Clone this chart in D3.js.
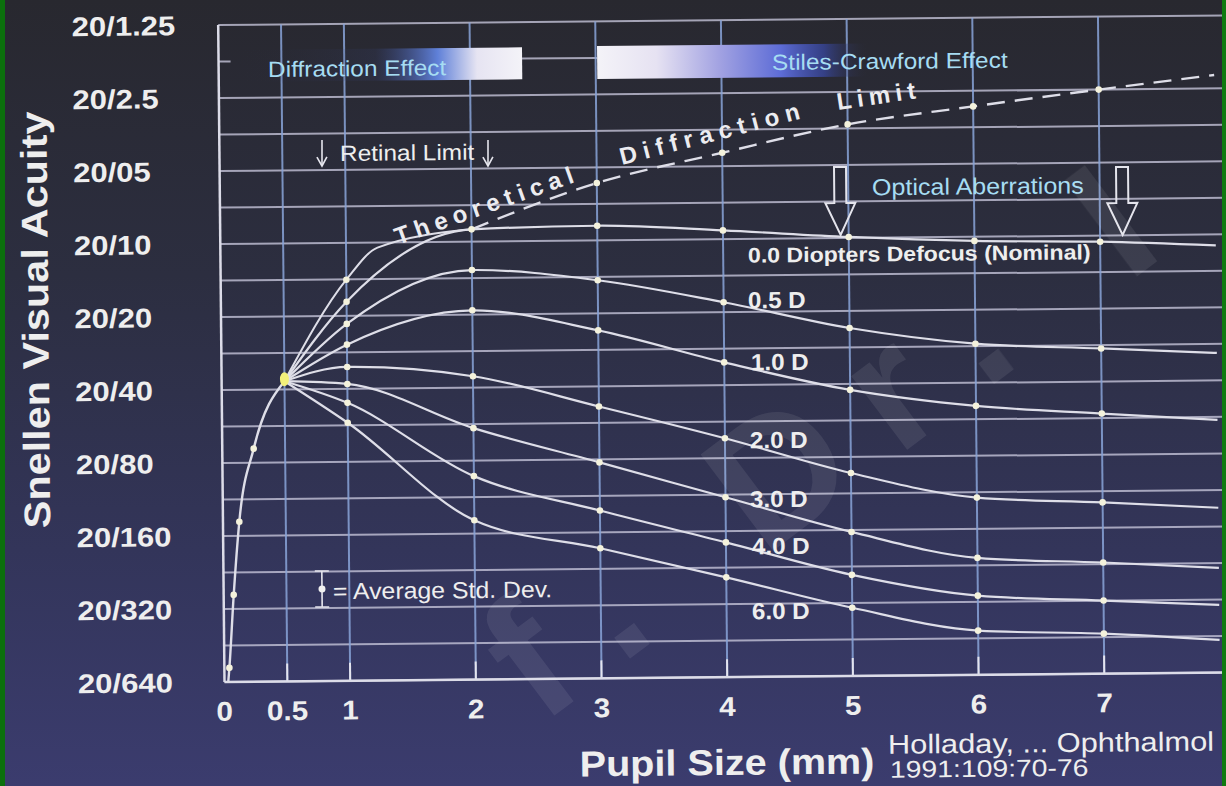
<!DOCTYPE html>
<html>
<head>
<meta charset="utf-8">
<script src="https://cdn.jsdelivr.net/npm/d3@7"></script>
<style>
html, body { margin: 0; padding: 0; background: #2e2f4a; }
svg { display: block; }
text { font-family: "Liberation Sans", Arial, Helvetica, sans-serif; }
</style>
</head>
<body>
<div id="chart"></div>
<script>
// Axis ticks
const xTicks = [0, 0.5, 1, 2, 3, 4, 5, 6, 7];
const xTickLabels = ["0", "0.5", "1", "2", "3", "4", "5", "6", "7"];
const yTicks = [1.25, 2.5, 5, 10, 20, 40, 80, 160, 320, 640];
const yTickLabels = ["20/1.25", "20/2.5", "20/05", "20/10", "20/20", "20/40", "20/80", "20/160", "20/320", "20/640"];

// Values are Snellen denominators (20/x)
// rising part shared by every curve (pupil below 0.5 mm)
const risingMm = [0.03, 0.04, 0.08, 0.13, 0.25, 0.5];
const risingDen = [640, 560, 280, 140, 70, 37];

// theoretical diffraction limit
const theoryMm = [0.5, 1, 1.25, 2, 3, 4, 5, 6, 7, 7.92];
const theoryDen = [37, 14.2, 10.5, 8.9, 5.8, 4.4, 3.4, 2.9, 2.5, 2.2];

// defocus curves, all measured at the same pupil sizes
const defocusMm = [0.5, 1, 2, 3, 4, 5, 6, 7, 7.92];
const defocus00 = [37, 17.5, 8.9, 8.7, 9.2, 9.9, 10.4, 10.6, 11.1];
const defocus05 = [37, 21.6, 13.1, 14.6, 18.2, 23.5, 27.6, 29.2, 30.8];
const defocus10 = [37, 26.3, 19.2, 23.5, 32.2, 42.3, 49.8, 54.2, 58.2];
const defocus20 = [37, 32.5, 35.9, 48.4, 66.2, 93.1, 119, 126, 134];
const defocus30 = [37, 38.2, 58.8, 82.3, 116, 163, 211, 223, 237];
const defocus40 = [37, 45.7, 92.7, 130, 178, 245, 302, 320, 337];
const defocus60 = [37, 55.2, 141, 186, 248, 335, 421, 438, 470];
const defocusNames = ["0.0 Diopters Defocus (Nominal)", "0.5 D", "1.0 D", "2.0 D", "3.0 D", "4.0 D", "6.0 D"];
const defocusSeries = [defocus00, defocus05, defocus10, defocus20, defocus30, defocus40, defocus60];

const W = 1226, H = 786;
const ROT = 0.55; // the scanned chart is slightly tilted

const svg = d3.select("#chart").append("svg")
    .attr("width", W)
    .attr("height", H);

const defs = svg.append("defs");

// Background gradient
const bg = defs.append("linearGradient").attr("id", "bg")
    .attr("x1", 0).attr("y1", 0).attr("x2", 0).attr("y2", 1);
[["0%", "#28282f"], ["35%", "#2c2e40"], ["70%", "#33355a"], ["100%", "#3b3c6e"]]
    .forEach(s => bg.append("stop").attr("offset", s[0]).attr("stop-color", s[1]));

svg.append("rect").attr("width", W).attr("height", H).attr("fill", "url(#bg)");

// Scales
const x = d3.scaleLinear().domain([0, 8]).range([224.5, 1230]);
const y = d3.scaleLog().base(2).domain([1.25, 640]).range([25, 682]);

const cx = x(0), cy = y(640);
const sinR = Math.sin(ROT * Math.PI / 180), cosR = Math.cos(ROT * Math.PI / 180);
// picture position -> position inside the tilted group
function unrot(X, Y) {
    const dx = X - cx, dy = Y - cy;
    return [cx + dx * cosR - dy * sinR, cy + dx * sinR + dy * cosR];
}

const g = svg.append("g").attr("transform", `rotate(${-ROT}, ${cx}, ${cy})`);

// Horizontal grid, every half octave
const halfSteps = d3.range(0, 19).map(k => 1.25 * Math.pow(2, k / 2));
g.selectAll("line.hgrid")
    .data(halfSteps.filter((d, i) => i !== 1))
    .join("line")
    .attr("class", "hgrid")
    .attr("x1", x(0)).attr("x2", x(8))
    .attr("y1", d => y(d)).attr("y2", d => y(d))
    .attr("stroke", "#c4c3d8")
    .attr("stroke-width", 2)
    .attr("opacity", 0.8);

// the second half-octave line only shows between the effect boxes
const half1 = y(halfSteps[1]);
g.append("line").attr("x1", x(0)).attr("x2", x(0) + 12).attr("y1", half1).attr("y2", half1)
    .attr("stroke", "#c4c3d8").attr("stroke-width", 2).attr("opacity", 0.8);
g.append("line").attr("x1", unrot(522, 60)[0]).attr("x2", unrot(597, 60)[0]).attr("y1", half1).attr("y2", half1)
    .attr("stroke", "#c4c3d8").attr("stroke-width", 2).attr("opacity", 0.8);

// Vertical grid
const xGrid = [0.5, 1, 2, 3, 4, 5, 6, 7];
g.selectAll("line.vgrid")
    .data(xGrid)
    .join("line")
    .attr("class", "vgrid")
    .attr("x1", d => x(d)).attr("x2", d => x(d))
    .attr("y1", y(1.25)).attr("y2", y(640))
    .attr("stroke", "#89a4d8")
    .attr("stroke-width", 2)
    .attr("opacity", 0.85);

// white ticks at the bottom of each vertical line
g.selectAll("line.btick")
    .data(xGrid)
    .join("line")
    .attr("class", "btick")
    .attr("x1", d => x(d)).attr("x2", d => x(d))
    .attr("y1", y(640) - 18).attr("y2", y(640))
    .attr("stroke", "#e4e4ee")
    .attr("stroke-width", 2);

// Axis frame
g.append("line").attr("x1", x(0)).attr("x2", x(0)).attr("y1", y(1.25)).attr("y2", y(640))
    .attr("stroke", "#dcdce8").attr("stroke-width", 2.5);
g.append("line").attr("x1", x(0)).attr("x2", x(8)).attr("y1", y(640)).attr("y2", y(640))
    .attr("stroke", "#dcdce8").attr("stroke-width", 2.5);

// Effect boxes
function hGradient(id, stops) {
    const lg = defs.append("linearGradient").attr("id", id)
        .attr("x1", 0).attr("y1", 0).attr("x2", 1).attr("y2", 0);
    stops.forEach(s => lg.append("stop").attr("offset", s[0]).attr("stop-color", s[1]).attr("stop-opacity", s[2]));
}
hGradient("diffGrad", [[0, "#2c2e40", 0], [0.48, "#3b4a8a", 0.15], [0.7, "#5f80d8", 1], [0.84, "#e6e4f2", 1], [1, "#f4f3f8", 1]]);
hGradient("scGrad", [[0, "#f4f3f8", 1], [0.22, "#e6e2f2", 1], [0.45, "#a3a3e2", 1], [0.68, "#5d6cd6", 1], [0.84, "#3a4aa8", 0.7], [1, "#2c2e40", 0]]);

const diffBox = unrot(240, 50);
g.append("rect").attr("x", diffBox[0]).attr("y", diffBox[1]).attr("width", 282).attr("height", 32)
    .attr("fill", "url(#diffGrad)");
const scBox = unrot(597, 46);
g.append("rect").attr("x", scBox[0]).attr("y", scBox[1]).attr("width", 270).attr("height", 33)
    .attr("fill", "url(#scGrad)");

// Curves
const line = d3.line()
    .x(d => x(d[0]))
    .y(d => y(d[1]))
    .curve(d3.curveMonotoneX);

const curveColor = "#dedee8";

g.append("path")
    .datum(risingMm.map((m, i) => [m, risingDen[i]]))
    .attr("d", line)
    .attr("fill", "none").attr("stroke", curveColor).attr("stroke-width", 2.4);

const theoryPts = theoryMm.map((m, i) => [m, theoryDen[i]]);
g.append("path")
    .datum(theoryPts.filter(d => d[0] <= 2))
    .attr("d", line)
    .attr("fill", "none").attr("stroke", curveColor).attr("stroke-width", 2);
g.append("path")
    .datum(theoryPts.filter(d => d[0] >= 2))
    .attr("d", line)
    .attr("fill", "none").attr("stroke", curveColor).attr("stroke-width", 2.4)
    .attr("stroke-dasharray", "18,10");

defocusSeries.forEach(series => {
    g.append("path")
        .datum(defocusMm.map((m, i) => [m, series[i]]))
        .attr("d", line)
        .attr("fill", "none").attr("stroke", curveColor).attr("stroke-width", 2.2);
});

// Points
const dotColor = "#f4f2dc";
const dots = [];
risingMm.forEach((m, i) => { if (m > 0.03 && m < 0.5) dots.push([m, risingDen[i]]); });
theoryMm.forEach((m, i) => { if (m === 1 || m >= 3 && m <= 7) dots.push([m, theoryDen[i]]); });
defocusSeries.forEach(series => {
    defocusMm.forEach((m, i) => { if (m >= 1 && m <= 7) dots.push([m, series[i]]); });
});
g.selectAll("circle.pt")
    .data(dots)
    .join("circle")
    .attr("class", "pt")
    .attr("cx", d => x(d[0]))
    .attr("cy", d => y(d[1]))
    .attr("r", 3.3)
    .attr("fill", dotColor);

// the shared point at 0.5 mm is yellow
g.append("ellipse")
    .attr("cx", x(risingMm[risingMm.length - 1]))
    .attr("cy", y(risingDen[risingDen.length - 1]) - 2)
    .attr("rx", 4.5).attr("ry", 7)
    .attr("fill", "#f2f07a");

// Tick labels
g.selectAll("text.ylab")
    .data(yTicks)
    .join("text")
    .attr("class", "ylab")
    .attr("transform", d => `translate(78, ${y(d)}) scale(1.15, 1)`)
    .attr("dy", "0.36em")
    .attr("font-size", 27)
    .attr("font-weight", "bold")
    .attr("fill", "#eeeeee")
    .text((d, i) => yTickLabels[i]);

g.selectAll("text.xlab")
    .data(xTicks)
    .join("text")
    .attr("class", "xlab")
    .attr("transform", d => `translate(${x(d)}, 711) scale(1.1, 1)`)
    .attr("dy", "0.36em")
    .attr("text-anchor", "middle")
    .attr("font-size", 27)
    .attr("font-weight", "bold")
    .attr("fill", "#eeeeee")
    .text((d, i) => xTickLabels[i]);

// text helper, positions are where the text sits in the picture
function label(X, Y, str, o) {
    const p = unrot(X, Y);
    return g.append("text")
        .attr("transform", `translate(${p[0]}, ${p[1]}) rotate(${o.rot || 0}) scale(${o.sx || 1}, 1)`)
        .attr("dy", o.baseline ? 0 : "0.36em")
        .attr("text-anchor", o.anchor || "start")
        .attr("font-size", o.size)
        .attr("font-weight", o.weight || "bold")
        .attr("letter-spacing", o.ls || 0)
        .attr("fill", o.fill || "#eeeeee")
        .text(str);
}

// Axis titles
label(35, 320, "Snellen Visual Acuity", { size: 37, rot: -90, sx: 1.12, anchor: "middle" });
label(727, 762, "Pupil Size (mm)", { size: 36, sx: 1.1, anchor: "middle" });
label(888, 744, "Holladay, ... Ophthalmol", { size: 27, sx: 1.14, weight: "normal" });
label(890, 769, "1991:109:70-76", { size: 24, sx: 1.18, weight: "normal" });

// Box captions
const cyan = "#a6dcf2";
label(268, 69, "Diffraction Effect", { size: 22, weight: "normal", fill: cyan, sx: 1.11 });
label(772, 62, "Stiles-Crawford Effect", { size: 22, weight: "normal", fill: cyan, sx: 1.11 });
label(872, 187, "Optical Aberrations", { size: 23, weight: "normal", fill: cyan, sx: 1.09 });

// Retinal limit
[322, 488].forEach(ax => {
    const a = unrot(ax, 140), b = unrot(ax, 166);
    g.append("line").attr("x1", a[0]).attr("y1", a[1]).attr("x2", b[0]).attr("y2", b[1])
        .attr("stroke", "#e6e6ee").attr("stroke-width", 1.6);
    g.append("polyline")
        .attr("points", `${b[0] - 5},${b[1] - 9} ${b[0]},${b[1]} ${b[0] + 5},${b[1] - 9}`)
        .attr("fill", "none").attr("stroke", "#e6e6ee").attr("stroke-width", 1.6);
});
label(340, 153, "Retinal Limit", { size: 22, weight: "normal", sx: 1.11 });

// Theoretical diffraction limit caption
label(398, 245, "Theoretical", { size: 24, rot: -19, ls: 6, baseline: true, fill: "#ececf0" });
label(622, 165, "Diffraction", { size: 24, rot: -14, ls: 6.5, baseline: true, fill: "#ececf0" });
label(838, 110, "Limit", { size: 24, rot: -8, ls: 5.5, baseline: true, fill: "#ececf0" });

// hollow arrows for optical aberrations
[840, 1122].forEach(ax => {
    const p = unrot(ax, 167);
    g.append("path")
        .attr("transform", `translate(${p[0]}, ${p[1]})`)
        .attr("d", "M-6,0 L6,0 L6,36 L15,36 L0,68 L-15,36 L-6,36 Z")
        .attr("fill", "none").attr("stroke", "#e4e4ec").attr("stroke-width", 2);
});

// Curve labels
const labelSpots = [[748, 255], [748, 300], [751, 362], [750, 440], [750, 499], [752, 546], [752, 611]];
defocusNames.forEach((name, i) => {
    label(labelSpots[i][0], labelSpots[i][1], name, { size: i === 0 ? 21 : 23, sx: i === 0 ? 1.1 : 1.05 });
});

// Std dev legend
const eb = unrot(322, 589);
const ebG = g.append("g").attr("transform", `translate(${eb[0]}, ${eb[1]})`);
ebG.append("line").attr("x1", 0).attr("x2", 0).attr("y1", -18).attr("y2", 18).attr("stroke", "#e6e6ee").attr("stroke-width", 1.6);
ebG.append("line").attr("x1", -7).attr("x2", 7).attr("y1", -18).attr("y2", -18).attr("stroke", "#e6e6ee").attr("stroke-width", 1.6);
ebG.append("line").attr("x1", -7).attr("x2", 7).attr("y1", 18).attr("y2", 18).attr("stroke", "#e6e6ee").attr("stroke-width", 1.6);
ebG.append("circle").attr("r", 3.5).attr("fill", "#f0f0f0");
label(333, 591, "= Average Std. Dev.", { size: 23, weight: "normal", sx: 1.08 });

// Watermark, laid out letter by letter along a diagonal; letters that would
// run off the picture are left out
const wmChars = "Prof. Dr. Izz".split("");
const wmAngle = -37 * Math.PI / 180;
const wmDir = [Math.cos(wmAngle), Math.sin(wmAngle)];
const wm = svg.append("g").attr("opacity", 0.08);
let wmOffset = 0;
wmChars.forEach(ch => {
    const px = 210 + wmDir[0] * wmOffset, py = 975 + wmDir[1] * wmOffset;
    const t = wm.append("text")
        .attr("transform", `translate(${px}, ${py}) rotate(-37)`)
        .attr("font-size", 175)
        .attr("font-weight", "bold")
        .attr("fill", "#ffffff")
        .text(ch);
    const w = ch === " " ? 175 * 0.278 : t.node().getComputedTextLength();
    wmOffset += w + 41;
    const b = t.node().getBoundingClientRect();
    if (ch === " " || b.left < 0 || b.top < 0 || b.right > W || b.bottom > H) t.remove();
});

// scan border
svg.append("rect").attr("x", 0).attr("y", 0).attr("width", 5).attr("height", H).attr("fill", "#0b700c");
svg.append("rect").attr("x", W - 4).attr("y", 0).attr("width", 4).attr("height", H).attr("fill", "#0f7a10");
</script>
</body>
</html>
